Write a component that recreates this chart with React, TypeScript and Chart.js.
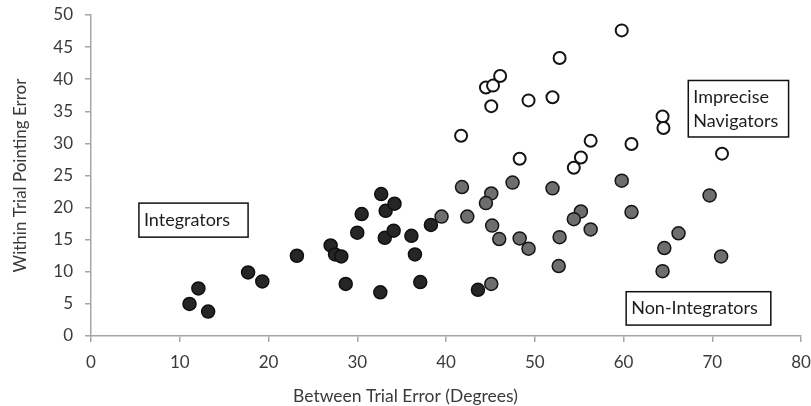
import React, { useEffect, useRef } from "react";
import { Chart, registerables } from "chart.js";

Chart.register(...registerables);

// Integrators (dark)
const integratorsX = [11.1, 12.1, 13.2, 17.7, 19.3, 23.2, 27.0, 27.5, 28.2, 28.7, 30.0, 30.5, 32.7, 33.2, 34.2, 33.1, 34.1, 32.6, 36.1, 36.5, 37.1, 38.3, 43.6];
const integratorsY = [5.0, 7.4, 3.8, 9.9, 8.5, 12.5, 14.1, 12.7, 12.4, 8.1, 16.1, 19.0, 22.1, 19.5, 20.6, 15.3, 16.4, 6.8, 15.6, 12.7, 8.4, 17.3, 7.2];

// Non-Integrators (grey)
const nonIntegratorsX = [39.5, 41.8, 42.4, 45.1, 44.5, 45.2, 46.0, 47.5, 48.3, 49.3, 45.1, 52.0, 55.2, 54.4, 52.8, 52.7, 56.3, 59.8, 60.9, 69.7, 66.2, 64.6, 64.4, 71.0];
const nonIntegratorsY = [18.6, 23.2, 18.6, 22.2, 20.7, 17.2, 15.1, 23.9, 15.2, 13.6, 8.1, 23.0, 19.4, 18.2, 15.4, 10.9, 16.6, 24.2, 19.3, 21.9, 16.0, 13.7, 10.1, 12.4];

// Imprecise Navigators (open)
const impreciseX = [41.7, 44.5, 45.3, 46.1, 45.1, 49.3, 48.3, 52.0, 52.8, 54.4, 55.2, 56.3, 59.8, 60.9, 64.4, 64.5, 71.1];
const impreciseY = [31.2, 38.7, 39.0, 40.5, 35.8, 36.7, 27.6, 37.2, 43.3, 26.2, 27.8, 30.4, 47.6, 29.9, 34.2, 32.4, 28.4];

const xTitle = "Between Trial Error (Degrees)";
const yTitle = "Within Trial Pointing Error";

// Annotation labels: lines, x0, x1, yTop, yBottom in data units
const labelLines = [["Integrators"], ["Imprecise", "Navigators"], ["Non-Integrators"]];
const labelX0 = [5.4, 67.3, 60.3];
const labelX1 = [17.7, 78.6, 76.6];
const labelYTop = [20.7, 39.8, 6.9];
const labelYBottom = [15.4, 31.0, 1.7];

const FONT = "Lato, 'Open Sans', sans-serif";
const AXIS_COLOR = "#a6a6a6";
const TEXT_COLOR = "#3a3a3a";

const toPoints = (xs: number[], ys: number[]) => xs.map((x, i) => ({ x, y: ys[i] }));

const boxesPlugin = {
  id: "boxes",
  afterDatasetsDraw(chart: any) {
    const { ctx, scales } = chart;
    const xs = scales.x;
    const ys = scales.y;
    ctx.save();
    ctx.font = `18px ${FONT}`;
    ctx.strokeStyle = "#111";
    ctx.lineWidth = 1.5;
    labelLines.forEach((lines, i) => {
      const l = xs.getPixelForValue(labelX0[i]);
      const r = xs.getPixelForValue(labelX1[i]);
      const t = ys.getPixelForValue(labelYTop[i]);
      const b = ys.getPixelForValue(labelYBottom[i]);
      ctx.fillStyle = "#fff";
      ctx.fillRect(l, t, r - l, b - t);
      ctx.strokeRect(l, t, r - l, b - t);
      ctx.fillStyle = "#1e1e1e";
      ctx.textAlign = "left";
      ctx.textBaseline = "middle";
      const lh = 24;
      const cy = (t + b) / 2;
      lines.forEach((line, j) => {
        const y = cy + (j - (lines.length - 1) / 2) * lh;
        ctx.fillText(line, l + 5, y);
      });
    });
    ctx.restore();
  },
};

export default function App() {
  const ref = useRef<HTMLCanvasElement | null>(null);
  useEffect(() => {
    if (!ref.current) return;
    const chart = new Chart(ref.current, {
      type: "scatter",
      data: {
        datasets: [
          {
            label: "Integrators",
            data: toPoints(integratorsX, integratorsY),
            backgroundColor: "#262626",
            borderColor: "#0f0f0f",
            borderWidth: 1.5,
            pointRadius: 6.5,
          },
          {
            label: "Non-Integrators",
            data: toPoints(nonIntegratorsX, nonIntegratorsY),
            backgroundColor: "#6e6e6e",
            borderColor: "#141414",
            borderWidth: 1.5,
            pointRadius: 6.5,
          },
          {
            label: "Imprecise Navigators",
            data: toPoints(impreciseX, impreciseY),
            backgroundColor: "#ffffff",
            borderColor: "#141414",
            borderWidth: 2,
            pointRadius: 6,
          },
        ],
      },
      options: {
        animation: false,
        responsive: false,
        maintainAspectRatio: false,
        layout: { padding: 0 },
        plugins: {
          legend: { display: false },
          tooltip: { enabled: false },
          title: {
            display: true,
            position: "bottom",
            text: xTitle,
            color: TEXT_COLOR,
            font: { family: FONT, size: 17.5, weight: "normal", lineHeight: 1.1 },
            padding: { top: 0, bottom: 0 },
          },
        },
        scales: {
          x: {
            type: "linear",
            min: 0,
            max: 80,
            ticks: { stepSize: 10, color: TEXT_COLOR, font: { family: FONT, size: 17 }, padding: 10 },
            grid: { display: true, drawOnChartArea: false, drawTicks: true, tickLength: 6, color: AXIS_COLOR, lineWidth: 1.5 },
            border: { display: true, color: AXIS_COLOR, width: 1.5 },
            afterFit: (scale: any) => {
              scale.height = 50.75;
              scale.paddingLeft = 0;
              scale.paddingRight = 10;
            },
          },
          y: {
            type: "linear",
            min: 0,
            max: 50,
            ticks: { stepSize: 5, color: TEXT_COLOR, font: { family: FONT, size: 17 }, padding: 12 },
            grid: { display: true, drawOnChartArea: false, drawTicks: true, tickLength: 6, color: AXIS_COLOR, lineWidth: 1.5 },
            border: { display: true, color: AXIS_COLOR, width: 1.5 },
            title: {
              display: true,
              text: yTitle,
              color: TEXT_COLOR,
              font: { family: FONT, size: 17, weight: "normal" },
              padding: { top: 10, bottom: 0 },
            },
            afterFit: (scale: any) => {
              scale.width = 91;
              scale.paddingTop = 15;
              scale.paddingBottom = 0;
            },
          },
        },
      },
      plugins: [boxesPlugin],
    });
    return () => chart.destroy();
  }, []);
  return (
    <div style={{ position: "fixed", left: 0, top: 0, width: 811, height: 406, background: "#fff" }}>
      <canvas ref={ref} width={811} height={406} style={{ display: "block", width: 811, height: 406 }} />
    </div>
  );
}
